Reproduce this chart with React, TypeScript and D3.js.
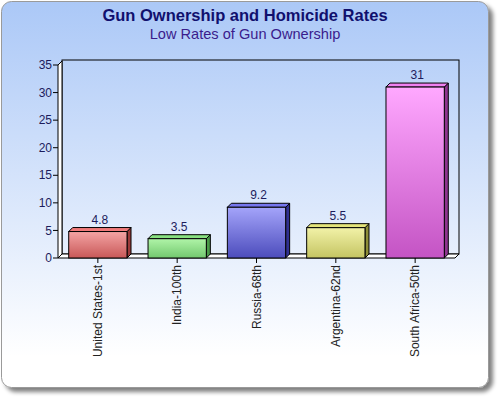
import * as d3 from "d3";
import { useEffect, useRef } from "react";

const categories = [
  "United States-1st",
  "India-100th",
  "Russia-68th",
  "Argentina-62nd",
  "South Africa-50th",
];
const values = [4.8, 3.5, 9.2, 5.5, 31];
const yTicks = [0, 5, 10, 15, 20, 25, 30, 35];
const title = "Gun Ownership and Homicide Rates";
const subtitle = "Low Rates of Gun Ownership";

// front top, front bottom, top face, side face
const palette = [
  ["#f4a4a4", "#c85858", "#f07a7a", "#9c3a3a"],
  ["#b0f4a8", "#72c86e", "#88e080", "#4a9a48"],
  ["#a4a4fa", "#4c4cbc", "#7676ee", "#303090"],
  ["#f2f2a8", "#c4c462", "#e4e47a", "#8e8e38"],
  ["#ffa8ff", "#c454c4", "#f080f0", "#8e348e"],
];

const W = 500;
const H = 400;
const depth = 4;
const font = "'Liberation Sans', Arial, sans-serif";

export default function App() {
  const ref = useRef<SVGSVGElement>(null);

  useEffect(() => {
    document.body.style.margin = "0";
    if (!ref.current) return;
    const svg = d3.select(ref.current);
    svg.selectAll("*").remove();

    const left = 58;
    const right = 455;
    const top = 65;
    const bottom = 258;

    const x = d3.scaleBand<string>().domain(categories).range([left, right]).paddingInner(0.265).paddingOuter(0.135);
    const y = d3.scaleLinear().domain([0, 35]).range([bottom, top]);

    const defs = svg.append("defs");
    const bg = defs.append("linearGradient").attr("id", "bg").attr("x1", 0).attr("y1", 0).attr("x2", 0).attr("y2", 1);
    bg.append("stop").attr("offset", "0%").attr("stop-color", "#abc8f7");
    bg.append("stop").attr("offset", "92%").attr("stop-color", "#ffffff");
    const sh = defs.append("filter").attr("id", "shadow").attr("x", "-5%").attr("y", "-5%").attr("width", "110%").attr("height", "110%");
    sh.append("feGaussianBlur").attr("in", "SourceAlpha").attr("stdDeviation", 2);
    sh.append("feOffset").attr("dx", 4).attr("dy", 4).attr("result", "b");
    sh.append("feComponentTransfer").append("feFuncA").attr("type", "linear").attr("slope", 0.5);
    const merge = sh.append("feMerge");
    merge.append("feMergeNode");
    merge.append("feMergeNode").attr("in", "SourceGraphic");

    palette.forEach((c, i) => {
      const g = defs.append("linearGradient").attr("id", `bar${i}`).attr("x1", 0).attr("y1", 0).attr("x2", 0).attr("y2", 1);
      g.append("stop").attr("offset", "0%").attr("stop-color", c[0]);
      g.append("stop").attr("offset", "100%").attr("stop-color", c[1]);
    });

    // card
    svg.append("rect")
      .attr("x", 1.5).attr("y", 1.5).attr("width", 487).attr("height", 386)
      .attr("rx", 10)
      .attr("fill", "url(#bg)")
      .attr("stroke", "#9a9a9a")
      .attr("filter", "url(#shadow)");

    svg.append("text")
      .attr("x", 245).attr("y", 21)
      .attr("text-anchor", "middle")
      .attr("font-family", font).attr("font-size", 16.5).attr("font-weight", "bold")
      .attr("fill", "#10106e")
      .text(title);
    svg.append("text")
      .attr("x", 245).attr("y", 39)
      .attr("text-anchor", "middle")
      .attr("font-family", font).attr("font-size", 14.6)
      .attr("fill", "#3a1c8c")
      .text(subtitle);

    // back wall, left wall, floor
    const k = "#000";
    svg.append("rect")
      .attr("x", left + depth).attr("y", top - depth - 1)
      .attr("width", right - left).attr("height", bottom - top + 1)
      .attr("fill", "none").attr("stroke", k);
    svg.append("path")
      .attr("d", `M${left},${bottom}L${left},${top}L${left + depth},${top - depth}L${left + depth},${bottom - depth}Z`)
      .attr("fill", "#ffffff").attr("stroke", k);
    svg.append("path")
      .attr("d", `M${left},${bottom}L${right},${bottom}L${right + depth},${bottom - depth}L${left + depth},${bottom - depth}Z`)
      .attr("fill", "#ffffff").attr("stroke", k);

    // y axis ticks
    const ya = svg.append("g").attr("font-family", font).attr("font-size", 12);
    yTicks.forEach((t) => {
      ya.append("line")
        .attr("x1", left - 5).attr("x2", left)
        .attr("y1", y(t)).attr("y2", y(t))
        .attr("stroke", k);
      ya.append("text")
        .attr("x", left - 6).attr("y", y(t)).attr("dy", "0.35em")
        .attr("text-anchor", "end").attr("fill", "#1c1c5c")
        .text(t);
    });

    // bars
    const bw = x.bandwidth();
    values.forEach((v, i) => {
      const c = palette[i];
      const x0 = x(categories[i])!;
      const x1 = x0 + bw;
      const yt = y(v);
      const g = svg.append("g").attr("stroke", k).attr("stroke-width", 1);
      g.append("path")
        .attr("d", `M${x1},${bottom}L${x1},${yt}L${x1 + depth},${yt - depth}L${x1 + depth},${bottom - depth}Z`)
        .attr("fill", c[3]);
      g.append("path")
        .attr("d", `M${x0},${yt}L${x0 + depth},${yt - depth}L${x1 + depth},${yt - depth}L${x1},${yt}Z`)
        .attr("fill", c[2]);
      g.append("rect")
        .attr("x", x0).attr("y", yt)
        .attr("width", bw).attr("height", bottom - yt)
        .attr("fill", `url(#bar${i})`);
      svg.append("text")
        .attr("x", x0 + bw / 2 + 2).attr("y", yt - depth - 4)
        .attr("text-anchor", "middle")
        .attr("font-family", font).attr("font-size", 12)
        .attr("fill", "#1c1c5c")
        .text(v);
    });

    // x axis ticks and labels
    const xa = svg.append("g").attr("font-family", font).attr("font-size", 12);
    categories.forEach((cat) => {
      const cx = x(cat)! + bw / 2;
      xa.append("line")
        .attr("x1", cx).attr("x2", cx)
        .attr("y1", bottom).attr("y2", bottom + 5)
        .attr("stroke", k);
      xa.append("text")
        .attr("transform", `translate(${cx},${bottom + 7}) rotate(-90)`)
        .attr("dy", "0.35em")
        .attr("text-anchor", "end")
        .attr("fill", "#222")
        .text(cat);
    });
  }, []);

  return <svg ref={ref} width={W} height={H} style={{ display: "block" }} />;
}
